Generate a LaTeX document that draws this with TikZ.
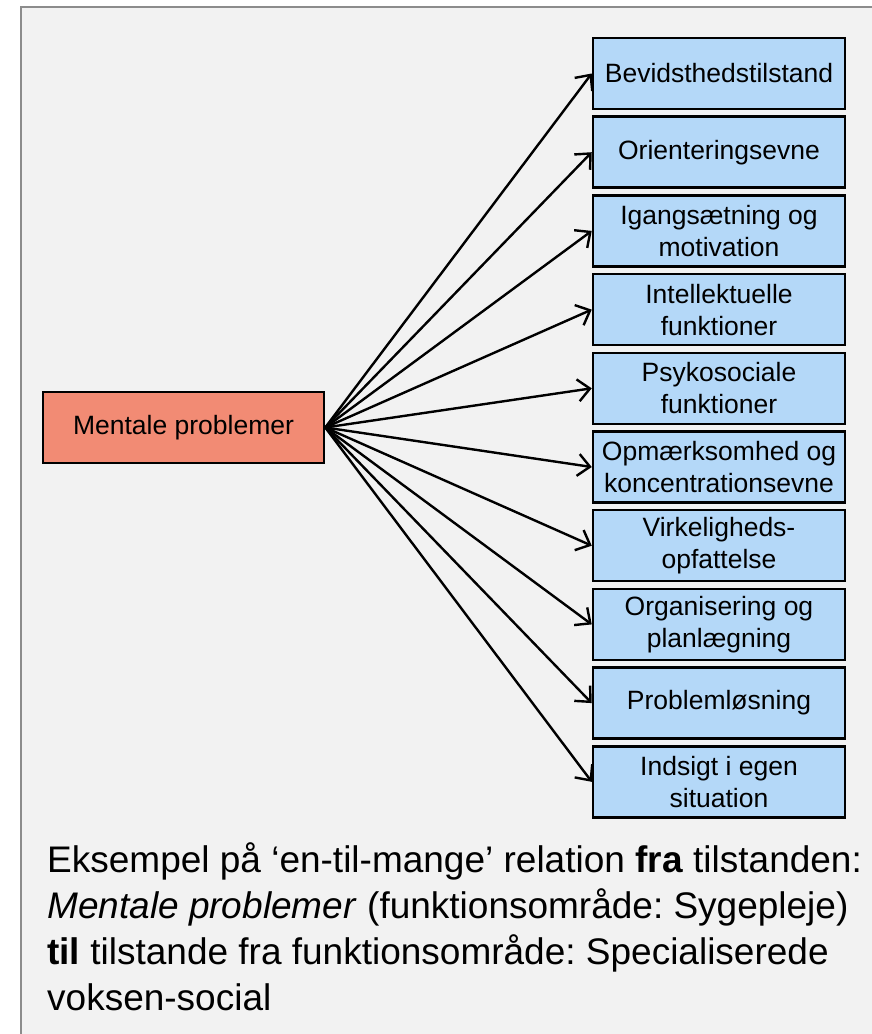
\documentclass[tikz,border=0pt]{standalone}
\usepackage{fontspec}
\setmainfont{Liberation Sans}
\usetikzlibrary{arrows.meta}
\frenchspacing
\definecolor{bgc}{HTML}{F2F2F2}
\definecolor{framec}{HTML}{8C8C8C}
\definecolor{bluec}{HTML}{B4D8F8}
\definecolor{salmonc}{HTML}{F28B74}
\tikzset{
  target/.style={draw=black, line width=2.5pt, fill=bluec, minimum width=252pt, minimum height=71pt, inner sep=0pt, align=center, font=\fontsize{26.5}{32}\selectfont},
  source/.style={draw=black, line width=2.5pt, fill=salmonc, minimum width=281pt, minimum height=71pt, inner sep=0pt, align=center, font=\fontsize{26.5}{32}\selectfont},
  link/.style={line width=2.4pt, -{Straight Barb[length=12pt,width=22pt,line width=2.4pt]}},
}
\begin{document}
\begin{tikzpicture}[x=1pt,y=-1pt]
\useasboundingbox (0,0) rectangle (871,1034);
\fill[white] (0,0) rectangle (871,1034);
\draw[framec, line width=2pt, fill=bgc] (21,7) rectangle (900,1060);
\node[source] (src) at (183.5,427.5) {Mentale problemer};
\node[target] (b0) at (719,73.5) {Bevidsthedstilstand};
\node[target] (b1) at (719,152.2) {Orienteringsevne};
\node[target] (b2) at (719,230.9) {Igangsætning og\\motivation};
\node[target] (b3) at (719,309.6) {Intellektuelle\\funktioner};
\node[target] (b4) at (719,388.3) {Psykosociale\\funktioner};
\node[target] (b5) at (719,467.0) {Opmærksomhed og\\koncentrationsevne};
\node[target] (b6) at (719,545.7) {Virkeligheds-\\opfattelse};
\node[target] (b7) at (719,624.4) {Organisering og\\planlægning};
\node[target] (b8) at (719,703.1) {Problemløsning};
\node[target] (b9) at (719,781.8) {Indsigt i egen\\situation};
\foreach \i in {0,...,9} {
  \draw[link] (src.east) -- (b\i.west);
}
\node[anchor=base west, inner sep=0pt, align=left, font=\fontsize{37}{46}\selectfont] (caption) at (47,1010)
{Eksempel på ‘en-til-mange’ relation \textbf{fra} tilstanden:\\
\textit{Mentale problemer} (funktionsområde: Sygepleje)\\
\textbf{til} tilstande fra funktionsområde: Specialiserede\\
voksen-social};
\end{tikzpicture}
\end{document}
